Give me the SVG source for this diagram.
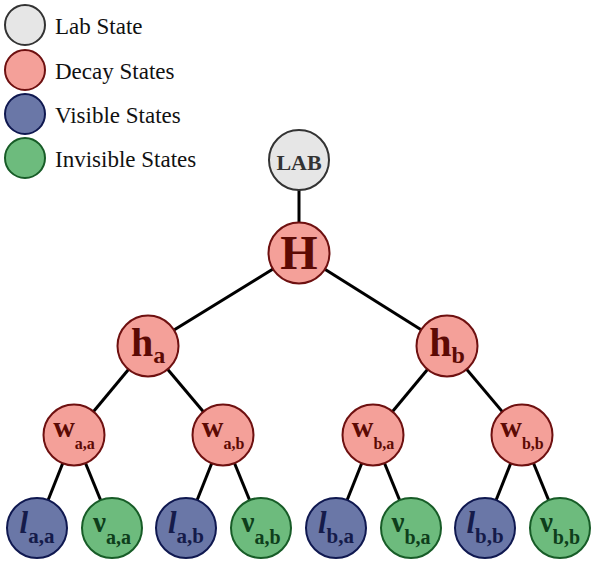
<svg xmlns="http://www.w3.org/2000/svg" width="598" height="575" viewBox="0 0 598 575">
<style>
  text { font-family: "Liberation Serif", "Times New Roman", serif; }
  .lab { fill: #e6e6e6; stroke: #333333; stroke-width: 2; }
  .dec { fill: #f4a099; stroke: #6e1010; stroke-width: 2; }
  .vis { fill: #6a77a7; stroke: #0f1850; stroke-width: 2; }
  .inv { fill: #6dbb7d; stroke: #175c27; stroke-width: 2; }
  .leg { font-size: 23px; fill: #111111; }
  .tlab { fill: #333333; font-weight: bold; text-anchor: middle; }
  .tdec { fill: #5c0a04; font-weight: bold; text-anchor: middle; }
  .tvis { fill: #151b4a; font-weight: bold; text-anchor: middle; }
  .tinv { fill: #0e3e1b; font-weight: bold; text-anchor: middle; }
  .edge { stroke: #000000; stroke-width: 3; fill: none; }
</style>
<rect width="598" height="575" fill="#ffffff"/>

<g id="legend">
  <circle class="lab" cx="25" cy="25" r="20"/>
  <text class="leg" x="55" y="34">Lab State</text>
  <circle class="dec" cx="25" cy="70" r="20"/>
  <text class="leg" x="55" y="79">Decay States</text>
  <circle class="vis" cx="25" cy="114" r="20"/>
  <text class="leg" x="55" y="123">Visible States</text>
  <circle class="inv" cx="25" cy="158" r="20"/>
  <text class="leg" x="55" y="167">Invisible States</text>
</g>

<g id="connectors">
  <line class="edge" x1="299" y1="160" x2="299" y2="253"/>
  <line class="edge" x1="299" y1="253" x2="148" y2="346"/>
  <line class="edge" x1="299" y1="253" x2="447" y2="346"/>
  <line class="edge" x1="148" y1="346" x2="74" y2="435"/>
  <line class="edge" x1="148" y1="346" x2="223" y2="435"/>
  <line class="edge" x1="447" y1="346" x2="373" y2="435"/>
  <line class="edge" x1="447" y1="346" x2="522" y2="435"/>
  <line class="edge" x1="74" y1="435" x2="37" y2="528"/>
  <line class="edge" x1="74" y1="435" x2="112" y2="528"/>
  <line class="edge" x1="223" y1="435" x2="186" y2="528"/>
  <line class="edge" x1="223" y1="435" x2="261" y2="528"/>
  <line class="edge" x1="373" y1="435" x2="336" y2="528"/>
  <line class="edge" x1="373" y1="435" x2="411" y2="528"/>
  <line class="edge" x1="522" y1="435" x2="485" y2="528"/>
  <line class="edge" x1="522" y1="435" x2="560" y2="528"/>
</g>

<g id="node-lab">
  <circle class="lab" cx="299" cy="160" r="30"/>
  <text class="tlab" x="299" y="170" font-size="22">LAB</text>
</g>
<g id="node-H">
  <circle class="dec" cx="299" cy="253" r="30.5"/>
  <text class="tdec" x="299" y="269" font-size="48">H</text>
</g>

<g id="node-ha">
  <circle class="dec" cx="148" cy="346" r="30.5"/>
  <text class="tdec" x="148" y="356" font-size="40">h<tspan font-size="24" dy="7">a</tspan></text>
</g>
<g id="node-hb">
  <circle class="dec" cx="447" cy="346" r="30.5"/>
  <text class="tdec" x="447" y="356" font-size="40">h<tspan font-size="24" dy="7">b</tspan></text>
</g>

<g id="node-waa">
  <circle class="dec" cx="74" cy="435" r="30.5"/>
  <text class="tdec" x="74" y="437" font-size="30">w<tspan font-size="16" dy="12">a,a</tspan></text>
</g>
<g id="node-wab">
  <circle class="dec" cx="223" cy="435" r="30.5"/>
  <text class="tdec" x="223" y="437" font-size="30">w<tspan font-size="16" dy="12">a,b</tspan></text>
</g>
<g id="node-wba">
  <circle class="dec" cx="373" cy="435" r="30.5"/>
  <text class="tdec" x="373" y="437" font-size="30">w<tspan font-size="16" dy="12">b,a</tspan></text>
</g>
<g id="node-wbb">
  <circle class="dec" cx="522" cy="435" r="30.5"/>
  <text class="tdec" x="522" y="437" font-size="30">w<tspan font-size="16" dy="12">b,b</tspan></text>
</g>

<g id="node-laa">
  <circle class="vis" cx="37" cy="528" r="30"/>
  <text class="tvis" x="37" y="533" font-size="31"><tspan font-style="italic">l</tspan><tspan font-size="21" dy="10">a,a</tspan></text>
</g>
<g id="node-naa">
  <circle class="inv" cx="112" cy="528" r="30"/>
  <text class="tinv" x="112" y="532" font-size="29">ν<tspan font-size="20" dy="12">a,a</tspan></text>
</g>
<g id="node-lab2">
  <circle class="vis" cx="186" cy="528" r="30"/>
  <text class="tvis" x="186" y="533" font-size="31"><tspan font-style="italic">l</tspan><tspan font-size="21" dy="10">a,b</tspan></text>
</g>
<g id="node-nab">
  <circle class="inv" cx="261" cy="528" r="30"/>
  <text class="tinv" x="261" y="532" font-size="29">ν<tspan font-size="20" dy="12">a,b</tspan></text>
</g>
<g id="node-lba">
  <circle class="vis" cx="336" cy="528" r="30"/>
  <text class="tvis" x="336" y="533" font-size="31"><tspan font-style="italic">l</tspan><tspan font-size="21" dy="10">b,a</tspan></text>
</g>
<g id="node-nba">
  <circle class="inv" cx="411" cy="528" r="30"/>
  <text class="tinv" x="411" y="532" font-size="29">ν<tspan font-size="20" dy="12">b,a</tspan></text>
</g>
<g id="node-lbb">
  <circle class="vis" cx="485" cy="528" r="30"/>
  <text class="tvis" x="485" y="533" font-size="31"><tspan font-style="italic">l</tspan><tspan font-size="21" dy="10">b,b</tspan></text>
</g>
<g id="node-nbb">
  <circle class="inv" cx="560" cy="528" r="30"/>
  <text class="tinv" x="560" y="532" font-size="29">ν<tspan font-size="20" dy="12">b,b</tspan></text>
</g>
</svg>
